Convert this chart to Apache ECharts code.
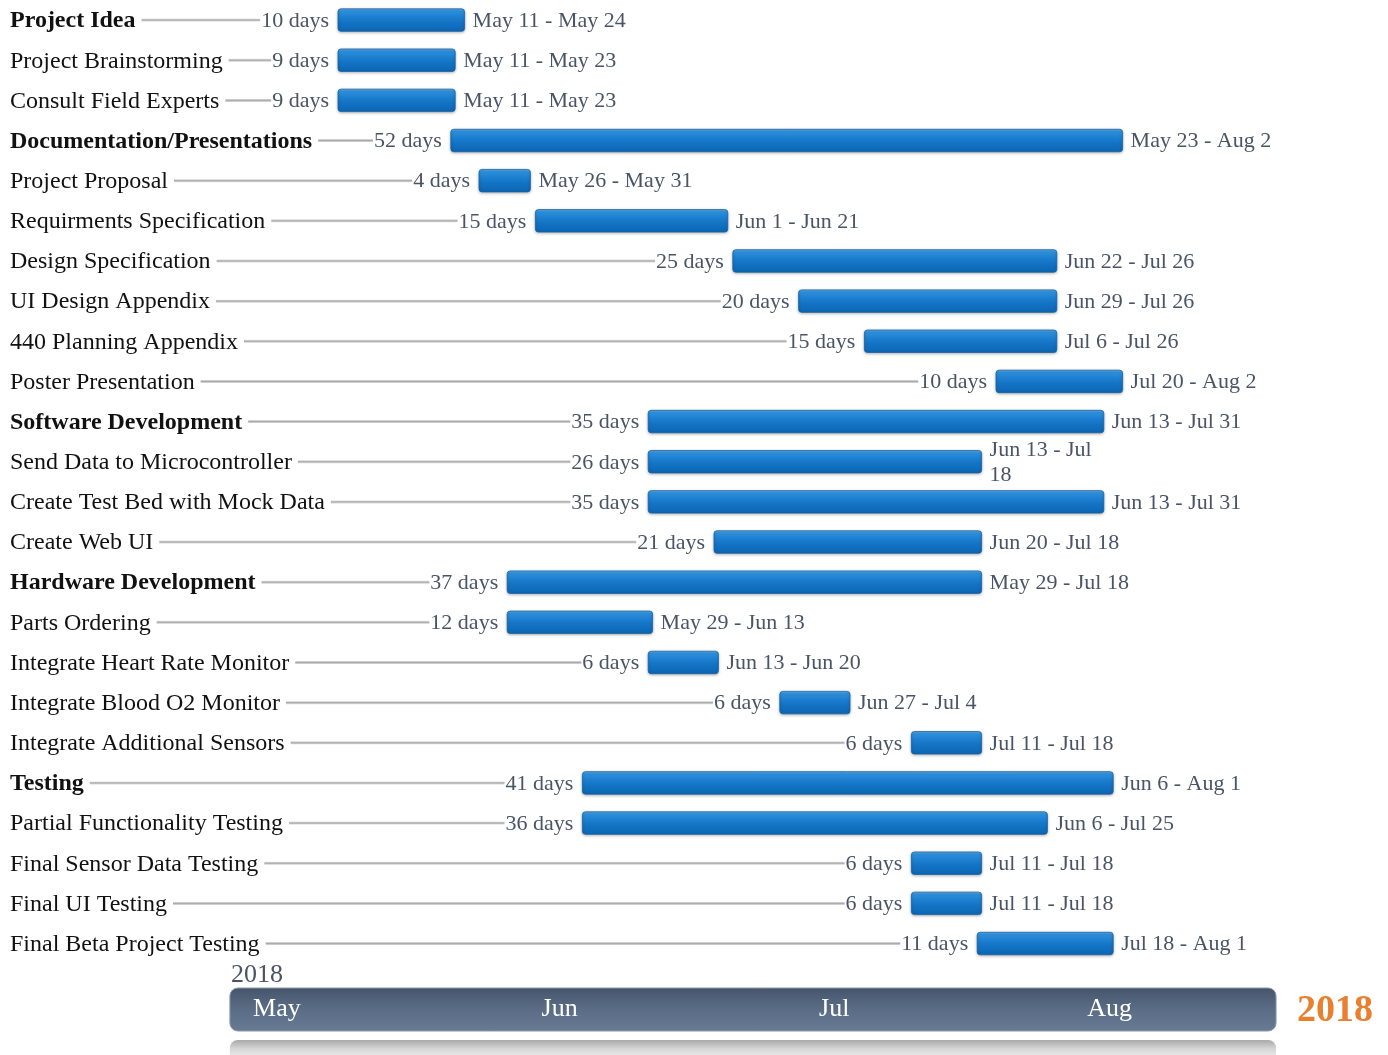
<!DOCTYPE html>
<html><head><meta charset="utf-8">
<script src="https://cdn.jsdelivr.net/npm/echarts@6/dist/echarts.min.js"></script>
<style>html,body{margin:0;padding:0;background:#fff}#c{width:1388px;height:1055px}</style>
</head><body><div id="c"></div>
<script>
const taskNames = ['Project Idea','Project Brainstorming','Consult Field Experts','Documentation/Presentations','Project Proposal','Requirments Specification','Design Specification','UI Design Appendix','440 Planning Appendix','Poster Presentation','Software Development','Send Data to Microcontroller','Create Test Bed with Mock Data','Create Web UI','Hardware Development','Parts Ordering','Integrate Heart Rate Monitor','Integrate Blood O2 Monitor','Integrate Additional Sensors','Testing','Partial Functionality Testing','Final Sensor Data Testing','Final UI Testing','Final Beta Project Testing'];
const isSummary = [true,false,false,true,false,false,false,false,false,false,true,false,false,false,true,false,false,false,false,true,false,false,false,false];
const startDates = ['2018-05-11','2018-05-11','2018-05-11','2018-05-23','2018-05-26','2018-06-01','2018-06-22','2018-06-29','2018-07-06','2018-07-20','2018-06-13','2018-06-13','2018-06-13','2018-06-20','2018-05-29','2018-05-29','2018-06-13','2018-06-27','2018-07-11','2018-06-06','2018-06-06','2018-07-11','2018-07-11','2018-07-18'];
const endDates = ['2018-05-24','2018-05-23','2018-05-23','2018-08-02','2018-05-31','2018-06-21','2018-07-26','2018-07-26','2018-07-26','2018-08-02','2018-07-31','2018-07-18','2018-07-31','2018-07-18','2018-07-18','2018-06-13','2018-06-20','2018-07-04','2018-07-18','2018-08-01','2018-07-25','2018-07-18','2018-07-18','2018-08-01'];
const durations = [10,9,9,52,4,15,25,20,15,10,35,26,35,21,37,12,6,6,6,41,36,6,6,11];
const dateLabels = ['May 11 - May 24','May 11 - May 23','May 11 - May 23','May 23 - Aug 2','May 26 - May 31','Jun 1 - Jun 21','Jun 22 - Jul 26','Jun 29 - Jul 26','Jul 6 - Jul 26','Jul 20 - Aug 2','Jun 13 - Jul 31','Jun 13 - Jul\n18','Jun 13 - Jul 31','Jun 20 - Jul 18','May 29 - Jul 18','May 29 - Jun 13','Jun 13 - Jun 20','Jun 27 - Jul 4','Jul 11 - Jul 18','Jun 6 - Aug 1','Jun 6 - Jul 25','Jul 11 - Jul 18','Jul 11 - Jul 18','Jul 18 - Aug 1'];
const monthLabels = ['May','Jun','Jul','Aug'];
const monthLabelDates = ['2018-05-04T12:00','2018-06-03T14:00','2018-07-02T19:00','2018-08-01T02:00'];
const yearLabel = '2018';
const timelineRange = ['2018-04-29T12:00','2018-08-18T19:00'];
const axisRange = ['2018-04-20','2018-08-20'];

const DAY = 86400000;
function t(s){ const p = s.split('T'); const d = p[0].split('-').map(Number); let h=0, mi=0; if(p[1]){ const q=p[1].split(':').map(Number); h=q[0]; mi=q[1]; } return Date.UTC(d[0], d[1]-1, d[2], h, mi); }

const FONT = '"Liberation Serif","Times New Roman",serif';
const mctx = document.createElement('canvas').getContext('2d');
function textW(str, font){ mctx.font = font; return mctx.measureText(str).width; }

const taskData = taskNames.map((n,i)=>[i, t(startDates[i]), t(endDates[i]) + DAY]);

function renderTask(params, api){
  const i = api.value(0);
  const s = api.coord([api.value(1), i]);
  const e = api.coord([api.value(2), i]);
  const cy = s[1];
  const bh = api.size([0,1])[1] * 0.56;
  const x0 = s[0], x1 = e[0] - 5;
  const nameFont = (isSummary[i] ? 'bold ' : '') + '24px ' + FONT;
  const smallFont = '22px ' + FONT;
  const nameW = textW(taskNames[i], nameFont);
  const durText = durations[i] + ' days';
  const durW = textW(durText, smallFont);
  const durRight = x0 - 9;
  const lineStart = 10 + nameW + 6;
  const lineEnd = durRight - durW - 1;
  const children = [];
  children.push({type:'text', style:{x:10, y:cy+1, text:taskNames[i], font:nameFont, fill:'#111', align:'left', verticalAlign:'middle'}});
  if (lineEnd > lineStart) {
    children.push({type:'rect', shape:{x:lineStart, y:cy-1.5, width:lineEnd-lineStart, height:3},
      style:{fill:new echarts.graphic.LinearGradient(0,0,0,1,[{offset:0,color:'#e2e2e2'},{offset:0.5,color:'#a9a9a9'},{offset:1,color:'#dcdcdc'}])}});
  }
  children.push({type:'text', style:{x:durRight, y:cy+1, text:durText, font:smallFont, fill:'#4a5466', align:'right', verticalAlign:'middle'}});
  children.push({type:'rect', shape:{x:x0, y:cy-bh/2, width:x1-x0, height:bh, r:3},
    style:{fill:new echarts.graphic.LinearGradient(0,0,0,1,[{offset:0,color:'#63b2ee'},{offset:0.12,color:'#2e90dc'},{offset:0.35,color:'#1d80d1'},{offset:0.6,color:'#1373c4'},{offset:1,color:'#0c66b3'}]),
      stroke:'#1b62a3', lineWidth:0.8, shadowBlur:3, shadowColor:'rgba(0,0,0,0.28)', shadowOffsetY:1}});
  children.push({type:'text', style:{x:x1+8, y:cy+1, text:dateLabels[i], font:smallFont, fill:'#4a5466', align:'left', verticalAlign:'middle', lineHeight:25}});
  return {type:'group', children};
}

function renderTimeline(params, api){
  const a = api.coord([api.value(0), 1]);
  const b = api.coord([api.value(1), 0]);
  const x = a[0], y = a[1], w = b[0]-a[0], h = b[1]-a[1];
  return {type:'group', children:[
    {type:'rect', shape:{x:x, y:y+h+9, width:w, height:24, r:8},
      style:{fill:new echarts.graphic.LinearGradient(0,0,0,1,[{offset:0,color:'#a9a9a9'},{offset:0.35,color:'#d4d4d4'},{offset:1,color:'#ffffff'}])}},
    {type:'rect', shape:{x:x, y:y, width:w, height:h, r:8},
      style:{fill:new echarts.graphic.LinearGradient(0,0,0,1,[{offset:0,color:'#45546b'},{offset:0.5,color:'#5b6d86'},{offset:1,color:'#687b94'}]),
        stroke:'#8a98ab', lineWidth:1}},
    {type:'text', style:{x:x+1, y:y-13, text:yearLabel, font:'26px '+FONT, fill:'#4a5466', align:'left', verticalAlign:'middle'}},
    {type:'text', style:{x:x+w+21, y:y+h/2+2, text:yearLabel, font:'bold 38px '+FONT, fill:'#e8802f', align:'left', verticalAlign:'middle'}}
  ]};
}

function renderMonth(params, api){
  const p = api.coord([api.value(0), 0.5]);
  return {type:'text', style:{x:p[0], y:p[1], text:monthLabels[params.dataIndex], font:'26px '+FONT, fill:'#ffffff', align:'center', verticalAlign:'middle'}};
}

const chart = echarts.init(document.getElementById('c'), null, {renderer:'canvas'});
chart.setOption({
  animation:false,
  backgroundColor:'#ffffff',
  grid:[
    {left:140.6, right:100.6, top:-2.0, height:965.6},
    {left:140.6, right:100.6, top:988, height:43}
  ],
  xAxis:[
    {type:'value', gridIndex:0, min:t(axisRange[0]), max:t(axisRange[1]), show:false},
    {type:'value', gridIndex:1, min:t(axisRange[0]), max:t(axisRange[1]), show:false}
  ],
  yAxis:[
    {type:'category', gridIndex:0, data:taskNames, inverse:true, show:false},
    {type:'value', gridIndex:1, min:0, max:1, show:false}
  ],
  series:[
    {type:'custom', xAxisIndex:0, yAxisIndex:0, clip:false, renderItem:renderTask, encode:{x:[1,2], y:0}, data:taskData},
    {type:'custom', xAxisIndex:1, yAxisIndex:1, clip:false, renderItem:renderTimeline, encode:{x:[0,1]}, data:[[t(timelineRange[0]), t(timelineRange[1])]], z:1},
    {type:'custom', xAxisIndex:1, yAxisIndex:1, clip:false, renderItem:renderMonth, encode:{x:0}, data:monthLabelDates.map(d=>[t(d)]), z:2}
  ]
});
</script></body></html>
